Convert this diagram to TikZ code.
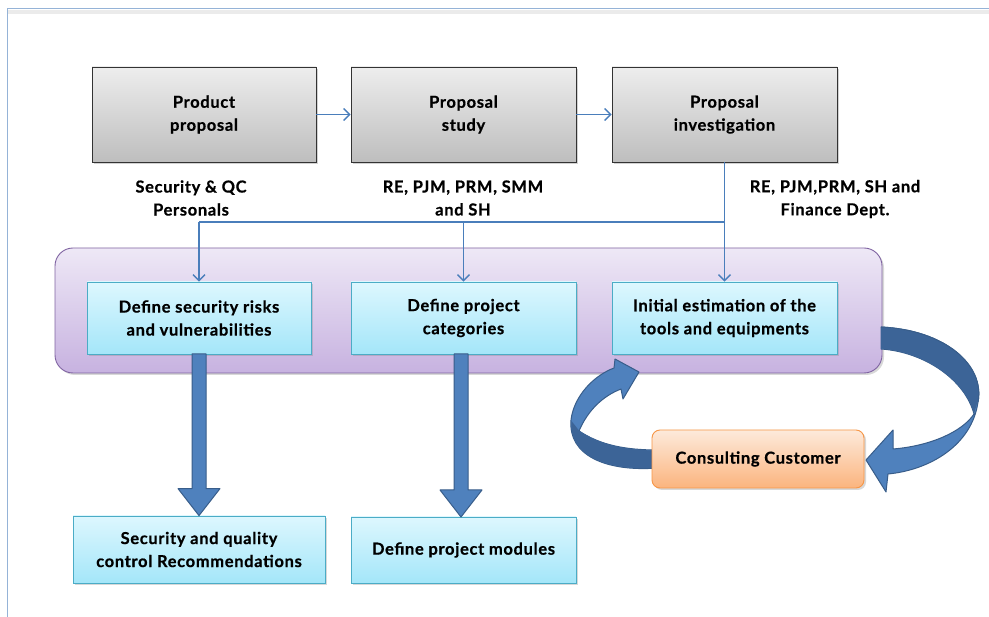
\documentclass[tikz,border=0pt]{standalone}
\usepackage{fontspec}
\setmainfont{Lato}[BoldFeatures={LetterSpace=4,FakeBold=0.6}]
\usetikzlibrary{arrows.meta,shadows,calc}
\definecolor{conn}{HTML}{4A7EBB}
\definecolor{frameblue}{HTML}{95B3D7}
\definecolor{grayT}{HTML}{EDEDED}
\definecolor{grayB}{HTML}{BEBEBE}
\definecolor{purT}{HTML}{EEE8F6}
\definecolor{purB}{HTML}{C7B2E0}
\definecolor{purD}{HTML}{8064A2}
\definecolor{cyT}{HTML}{DDF7FE}
\definecolor{cyB}{HTML}{A4E6F9}
\definecolor{cyD}{HTML}{4BACC6}
\definecolor{orT}{HTML}{FDEADB}
\definecolor{orB}{HTML}{FBB47E}
\definecolor{orD}{HTML}{F79646}
\definecolor{arrF}{HTML}{4F81BD}
\definecolor{arrD}{HTML}{3C6497}
\definecolor{arrE}{HTML}{385D8A}
\tikzset{
  txt/.style={font=\fontsize{16.5}{23}\selectfont\bfseries, align=center, text=black},
  graybox/.style={txt, draw=black!80, line width=0.8pt, top color=grayT, bottom color=grayB,
     minimum width=224pt, minimum height=95pt, inner sep=0pt,
     drop shadow={opacity=0.35, shadow xshift=2pt, shadow yshift=-2pt}},
  cyanbox/.style={txt, draw=cyD, line width=0.8pt, top color=cyT, bottom color=cyB,
     minimum width=224pt, minimum height=72pt, inner sep=0pt,
     drop shadow={opacity=0.3, shadow xshift=2pt, shadow yshift=-2pt}},
  lbl/.style={txt},
  connline/.style={draw=conn, line width=1.4pt},
  connarrow/.style={connline, -{Straight Barb[length=6pt,width=12pt,line width=1.4pt]}},
  fatarrow/.style={fill=arrF, draw=arrE, line width=1pt, line join=round},
}
\begin{document}
\begin{tikzpicture}[x=1pt,y=-1pt]
\useasboundingbox (0,0) rectangle (989,617);
\fill[white] (0,0) rectangle (989,617);
% frame
\fill[black!8] (7,10) rectangle (989,14);
\draw[frameblue, line width=1pt] (7,617) -- (7,9) -- (989,9);

% top boxes
\node[graybox] (p1) at (204,114.5) {Product\\proposal};
\node[graybox, minimum width=225pt] (p2) at (463.5,114.5) {Proposal\\study};
\node[graybox, minimum width=225pt] (p3) at (724.5,114.5) {Proposal\\investigation};
\draw[connarrow] (p1) -- (p2);
\draw[connarrow] (p2) -- (p3);

% labels
\node[lbl] (l1) at (191,198) {Security \& QC\\Personals};
\node[lbl] (l2) at (463,198) {RE, PJM, PRM, SMM\\and SH};
\node[lbl] (l3) at (835,199) {RE, PJM,PRM, SH and\\Finance Dept.};

% purple band
\node[draw=purD, line width=0.9pt, top color=purT, bottom color=purB, rounded corners=18pt,
      minimum width=827pt, minimum height=125pt, inner sep=0pt,
      drop shadow={opacity=0.3, shadow xshift=2pt, shadow yshift=-2pt}] (band) at (468.5,310.5) {};

% cyan boxes
\node[cyanbox] (a) at (199,318) {Define security risks\\and vulnerabilities};
\node[cyanbox, minimum width=225pt] (b) at (463.5,318) {Define project\\categories};
\node[cyanbox, minimum width=225pt] (c) at (724.5,318) {Initial estimation of the\\tools and equipments};

% connectors
\coordinate (j) at (724.5,222);
\draw[connarrow] (p3.south) -- (c.north);
\draw[connline] (a.north |- j) -- (j);
\draw[connarrow] (a.north |- j) -- (a.north);
\draw[connarrow] (b.north |- j) -- (b.north);

% bottom boxes
\node[cyanbox, minimum width=252pt, minimum height=67pt] (d) at (199,549.5) {Security and quality\\control Recommendations};
\node[cyanbox, minimum width=225pt, minimum height=66pt] (e) at (463.5,550) {Define project modules};

% fat arrows
\coordinate (as) at (199,354);
\coordinate (bs) at (461,354);
\draw[fatarrow] ($(as)+(-7,0)$) -- ($(d.north)+(-7,-27)$) -- ($(d.north)+(-21,-27)$) -- (d.north)
   -- ($(d.north)+(21,-27)$) -- ($(d.north)+(7,-27)$) -- ($(as)+(7,0)$) -- cycle;
\coordinate (et) at (461,517);
\draw[fatarrow] ($(bs)+(-7,0)$) -- ($(et)+(-7,-27)$) -- ($(et)+(-21,-27)$) -- (et)
   -- ($(et)+(21,-27)$) -- ($(et)+(7,-27)$) -- ($(bs)+(7,0)$) -- cycle;

% right ribbon arrow
\draw[fatarrow] (881,327) .. controls (945,330) and (985,365) .. (978,402)
  .. controls (972,445) and (930,470) .. (888,474)
  -- (886,492) -- (866,460) -- (893,430) -- (893,449)
  .. controls (930,446) and (962,432) .. (974,414)
  .. controls (965,380) and (925,352) .. (881,349) -- cycle;
\fill[arrD] (881,327.5) .. controls (945,330.5) and (984.5,365) .. (977.5,402)
  -- (974,413.5) .. controls (965,380) and (925,352.5) .. (881,348.5) -- cycle;
\draw[arrE, line width=1pt] (881,327) .. controls (945,330) and (985,365) .. (978,402);

% left ribbon arrow
\draw[fatarrow] (658,468) .. controls (605,472) and (568,455) .. (571,420)
  .. controls (574,395) and (595,375) .. (614,368)
  -- (615,359) -- (639,372) -- (623,399) -- (621,389)
  .. controls (603,396) and (588,410) .. (579,431)
  .. controls (600,445) and (625,450) .. (658,450) -- cycle;
\fill[arrD] (658,467.5) .. controls (605,471.5) and (568.5,455) .. (571.5,421)
  -- (579,430.5) .. controls (600,444.5) and (625,450.5) .. (658,450.5) -- cycle;

% consulting customer
\node[txt, draw=orD, line width=0.9pt, top color=orT, bottom color=orB, rounded corners=8pt,
      minimum width=212pt, minimum height=58pt, inner sep=0pt,
      drop shadow={opacity=0.3, shadow xshift=2pt, shadow yshift=-2pt}] (cc) at (758,459) {Consulting Customer};
\end{tikzpicture}
\end{document}
